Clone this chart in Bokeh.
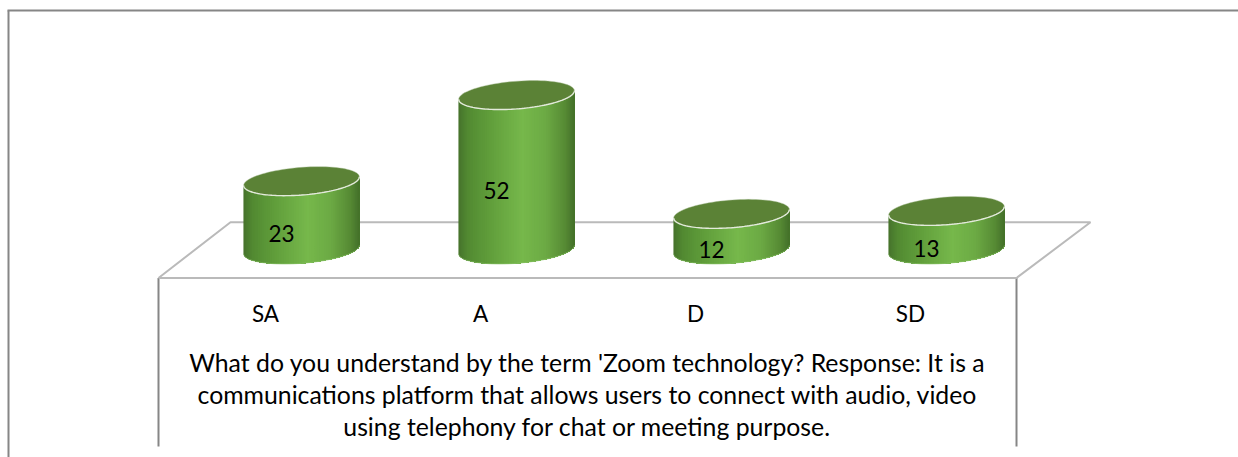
import math
from bokeh.plotting import figure
from bokeh.models import Range1d
from bokeh.core.properties import value
from bokeh.embed import file_html
from bokeh.resources import INLINE

categories = ["SA", "A", "D", "SD"]
values = [23, 52, 12, 13]
title_lines = [
    "What do you understand by the term 'Zoom technology? Response: It is a",
    "communications platform that allows users to connect with audio, video",
    "using telephony for chat or meeting purpose.",
]

W, H = 1238, 457
LEFT, TOP = 0, 0
X0_PX, DX_PX = 301.0, 215.0      # pixel centre of the first category, spacing
Y0_PX, DY_PX = 249.0, 2.97       # pixel of value 0, pixels per unit
A_PX, B_PX, TILT = 58.0, 13.8, math.radians(4.5)
FONT = value("Lato")

def X(px):
    return (px - X0_PX) / DX_PX

def Y(px):
    return (Y0_PX - px) / DY_PX

p = figure(width=W, height=H, output_backend="svg", toolbar_location=None,
           x_axis_location=None, y_axis_location=None,
           x_range=Range1d(X(LEFT), X(LEFT + W)),
           y_range=Range1d(Y(TOP + H), Y(TOP)),
           min_border=0, outline_line_color=None,
           background_fill_color="white", border_fill_color="white")
p.grid.visible = False

# chart frame and floor of the 3D box
FRAME = "#868686"
FLOOR = "#bababa"
p.line([X(8), X(8)], [Y(457), Y(10)], line_color=FRAME, line_width=2)
p.line([X(7), X(1238)], [Y(10), Y(10)], line_color=FRAME, line_width=2)
p.line([X(158), X(158)], [Y(446), Y(277.5)], line_color=FRAME, line_width=2)
p.line([X(1016), X(1016)], [Y(446), Y(277.5)], line_color=FRAME, line_width=2)
p.line([X(158), X(230), X(1090), X(1016), X(158)],
       [Y(277.5), Y(221.7), Y(221.7), Y(277.5), Y(277.5)],
       line_color=FLOOR, line_width=2)

# cylinder shading, across the width
STOPS = [(0.0, (0x47, 0x73, 0x2c)), (0.08, (0x52, 0x8a, 0x32)), (0.25, (0x5f, 0x9c, 0x3a)),
         (0.55, (0x76, 0xb8, 0x4b)), (0.75, (0x6c, 0xaa, 0x44)), (0.92, (0x56, 0x8a, 0x34)),
         (1.0, (0x44, 0x70, 0x2a))]

def shade(f):
    for (f0, c0), (f1, c1) in zip(STOPS, STOPS[1:]):
        if f <= f1:
            u = (f - f0) / (f1 - f0)
            return "#%02x%02x%02x" % tuple(round(a + (b - a) * u) for a, b in zip(c0, c1))
    return "#44702a"

def ell(i, v, t):
    dx = A_PX * math.cos(t) * math.cos(TILT) - B_PX * math.sin(t) * math.sin(TILT)
    dy = A_PX * math.cos(t) * math.sin(TILT) + B_PX * math.sin(t) * math.cos(TILT)
    return i + dx / DX_PX, v + dy / DY_PX

EPS = math.atan2(B_PX * math.tan(TILT), A_PX)
N = 70
ts = [math.pi - EPS + math.pi * k / N for k in range(N + 1)]

for i, v in enumerate(values):
    # each strip reaches the right edge and the next one paints over it, so no seams appear
    xs, ys, cols = [], [], []
    for k in range(N):
        top = [ell(i, v, t) for t in ts[k:]]
        bot = [ell(i, 0, t) for t in reversed(ts[k:])]
        ring = top + bot
        xs.append([q[0] for q in ring])
        ys.append([q[1] for q in ring])
        xm = (ell(i, v, ts[k])[0] + ell(i, v, ts[k + 1])[0]) / 2
        cols.append(shade(((xm - i) * DX_PX + A_PX) / (2 * A_PX)))
    p.patches(xs, ys, fill_color=cols, line_color=None)

    # lower rim of the base
    base = [ell(i, 0, t) for t in ts]
    p.line([q[0] for q in base], [q[1] for q in base], line_color="#8cc46a", line_width=1, line_alpha=0.6)

    # top face
    full = [ell(i, v, 2 * math.pi * k / 90) for k in range(90)]
    p.patch([q[0] for q in full], [q[1] for q in full], fill_color="#5b8236",
            line_color="#a9bf95", line_width=0.6, line_alpha=0.7)
    rim = [ell(i, v, t) for t in ts]
    p.line([q[0] for q in rim], [q[1] for q in rim], line_color="#e3eadb", line_width=1.4)

idx = list(range(len(categories)))
p.text(idx, [v / 2 for v in values], text=[str(v) for v in values],
       x_offset=-20, y_offset=18, text_font=FONT, text_font_size="22.5px",
       text_color="#000000", text_align="center", text_baseline="middle")
p.text(idx, [Y(313)] * 4, text=categories, x_offset=-36, text_font=FONT,
       text_font_size="22.5px", text_color="#000000", text_align="center", text_baseline="middle")
p.text([X(587)] * 3, [Y(361.5), Y(393.5), Y(425.5)], text=title_lines, text_font=FONT,
       text_font_size="24.8px", text_color="#000000", text_align="center", text_baseline="middle")

open("out.html", "w").write(file_html(p, INLINE))
